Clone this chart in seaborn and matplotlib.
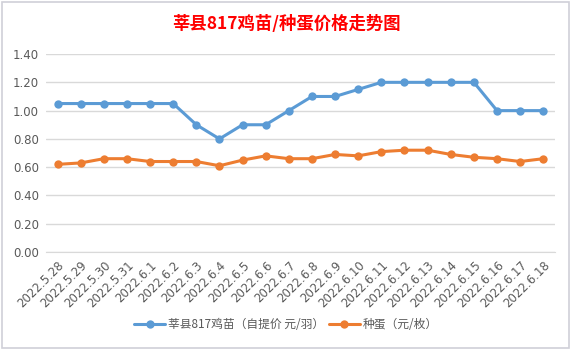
import pandas as pd
import matplotlib
matplotlib.use('Agg')
import matplotlib.pyplot as plt
import seaborn as sns
from matplotlib.patches import Rectangle

# 数据
dates = ['2022.5.28', '2022.5.29', '2022.5.30', '2022.5.31', '2022.6.1', '2022.6.2',
         '2022.6.3', '2022.6.4', '2022.6.5', '2022.6.6', '2022.6.7', '2022.6.8',
         '2022.6.9', '2022.6.10', '2022.6.11', '2022.6.12', '2022.6.13', '2022.6.14',
         '2022.6.15', '2022.6.16', '2022.6.17', '2022.6.18']
chick_price = [1.05, 1.05, 1.05, 1.05, 1.05, 1.05, 0.90, 0.80, 0.90, 0.90, 1.00,
               1.10, 1.10, 1.15, 1.20, 1.20, 1.20, 1.20, 1.20, 1.00, 1.00, 1.00]
egg_price = [0.62, 0.63, 0.66, 0.66, 0.64, 0.64, 0.64, 0.61, 0.65, 0.68, 0.66,
             0.66, 0.69, 0.68, 0.71, 0.72, 0.72, 0.69, 0.67, 0.66, 0.64, 0.66]
series_names = ['莘县817鸡苗（自提价 元/羽）', '种蛋（元/枚）']
y_ticks = [0.0, 0.2, 0.4, 0.6, 0.8, 1.0, 1.2, 1.4]

sns.set_style('white')
plt.rcParams['font.family'] = ['Noto Sans CJK SC', 'DejaVu Sans']

df = pd.DataFrame({'pos': range(len(dates)), 'date': dates,
                   series_names[0]: chick_price, series_names[1]: egg_price})
long_df = df.melt(id_vars=['pos', 'date'], var_name='series', value_name='price')

fig = plt.figure(figsize=(5.72, 3.51), dpi=100)
ax = fig.add_axes([0.0804, 0.282, 0.8896, 0.564])

sns.lineplot(data=long_df, x='pos', y='price', hue='series', hue_order=series_names,
             palette=['#5B9BD5', '#ED7D31'], marker='o', markersize=6,
             markeredgewidth=0, linewidth=2.2, ax=ax, sort=False)

ax.set_xlim(-0.5, len(dates) - 0.5)
ax.set_ylim(0, 1.4)
ax.set_yticks(y_ticks)
ax.set_yticklabels([f'{v:.2f}' for v in y_ticks], fontsize=8.5, color='#595959',
                   family=['DejaVu Sans'])
ax.set_xticks(range(len(dates)))
ax.set_xticklabels(dates, rotation=45, ha='right', rotation_mode='anchor',
                   fontsize=8.5, color='#595959', family=['DejaVu Sans'])
ax.tick_params(axis='both', length=0, pad=5)
ax.yaxis.grid(True, color='#d9d9d9', linewidth=1)
for s in ['top', 'left', 'right']:
    ax.spines[s].set_visible(False)
ax.spines['bottom'].set_color('#d9d9d9')
ax.set_xlabel('')
ax.set_ylabel('')

# 图例
handles, labels = ax.get_legend_handles_labels()
ax.legend(handles, labels, loc='center', bbox_to_anchor=(0.5, 0.075),
          bbox_transform=fig.transFigure, ncol=2, frameon=False,
          fontsize=8.5, labelcolor='#595959', handlelength=2.6, columnspacing=0.4,
          handletextpad=0.25)

# 标题
fig.text(0.5, 0.932, '莘县817鸡苗/种蛋价格走势图', ha='center', va='center',
         fontsize=12.5, fontweight='bold', color='#FF0000')

# 图表外框
fig.patches.append(Rectangle((0.004, 0.008), 0.991, 0.985, transform=fig.transFigure,
                             fill=False, edgecolor='#d0d0d8', linewidth=1.2))

fig.savefig('out.png', dpi=100)
